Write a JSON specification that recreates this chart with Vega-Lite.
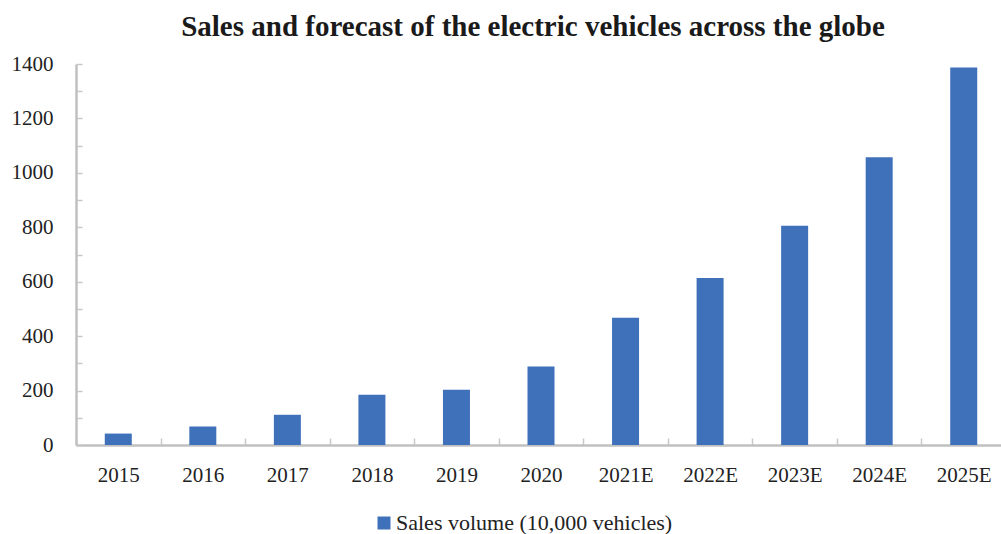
{
  "$schema": "https://vega.github.io/schema/vega-lite/v6.json",
  "autosize": {"type": "none"},
  "width": 930,
  "height": 381,
  "padding": {"left": 76, "top": 64, "right": 0, "bottom": 89},
  "background": "white",
  "title": {
    "text": "Sales and forecast of the electric vehicles across the globe",
    "font": "Liberation Serif",
    "fontSize": 29,
    "fontWeight": "bold",
    "color": "#1a1a1a",
    "anchor": "middle",
    "baseline": "alphabetic",
    "offset": -12,
    "dx": -8
  },
  "data": {
    "values": [
      {"year": "2015", "sales": 42, "series": "Sales volume (10,000 vehicles)"},
      {"year": "2016", "sales": 68, "series": "Sales volume (10,000 vehicles)"},
      {"year": "2017", "sales": 111, "series": "Sales volume (10,000 vehicles)"},
      {"year": "2018", "sales": 185, "series": "Sales volume (10,000 vehicles)"},
      {"year": "2019", "sales": 203, "series": "Sales volume (10,000 vehicles)"},
      {"year": "2020", "sales": 288, "series": "Sales volume (10,000 vehicles)"},
      {"year": "2021E", "sales": 468, "series": "Sales volume (10,000 vehicles)"},
      {"year": "2022E", "sales": 614, "series": "Sales volume (10,000 vehicles)"},
      {"year": "2023E", "sales": 806, "series": "Sales volume (10,000 vehicles)"},
      {"year": "2024E", "sales": 1057, "series": "Sales volume (10,000 vehicles)"},
      {"year": "2025E", "sales": 1387, "series": "Sales volume (10,000 vehicles)"}
    ]
  },
  "mark": {"type": "bar", "width": 27},
  "encoding": {
    "x": {
      "field": "year",
      "type": "nominal",
      "sort": null,
      "scale": {"paddingInner": 0, "paddingOuter": 0},
      "axis": {
        "title": null,
        "labelAngle": 0,
        "labelFont": "Liberation Serif",
        "labelFontSize": 21,
        "labelColor": "#222222",
        "labelPadding": 26,
        "tickBand": "extent",
        "tickSize": -7,
        "tickColor": "#c8c8c8",
        "tickWidth": 1.5,
        "domainColor": "#c0c0c0",
        "domainWidth": 2.5,
        "grid": false
      }
    },
    "y": {
      "field": "sales",
      "type": "quantitative",
      "scale": {"domain": [0, 1400], "nice": false},
      "axis": {
        "title": null,
        "values": [0, 100, 200, 300, 400, 500, 600, 700, 800, 900, 1000, 1100, 1200, 1300, 1400],
        "labelExpr": "datum.value % 200 == 0 ? datum.label : ''",
        "format": "d",
        "labelFont": "Liberation Serif",
        "labelFontSize": 21,
        "labelColor": "#222222",
        "labelPadding": 29,
        "tickSize": -6,
        "tickColor": "#c8c8c8",
        "tickWidth": 1.5,
        "domainColor": "#c0c0c0",
        "domainWidth": 2.5,
        "grid": false
      }
    },
    "color": {
      "field": "series",
      "type": "nominal",
      "scale": {"range": ["#3F71BA"]},
      "legend": {
        "title": null,
        "orient": "none",
        "legendX": 297,
        "legendY": 448,
        "padding": 0,
        "symbolType": "square",
        "symbolSize": 169,
        "symbolStrokeWidth": 0,
        "symbolOffset": 0,
        "labelOffset": 1,
        "labelFont": "Liberation Serif",
        "labelFontSize": 22,
        "labelColor": "#222222",
        "labelLimit": 500
      }
    }
  },
  "config": {"view": {"stroke": null}}
}
